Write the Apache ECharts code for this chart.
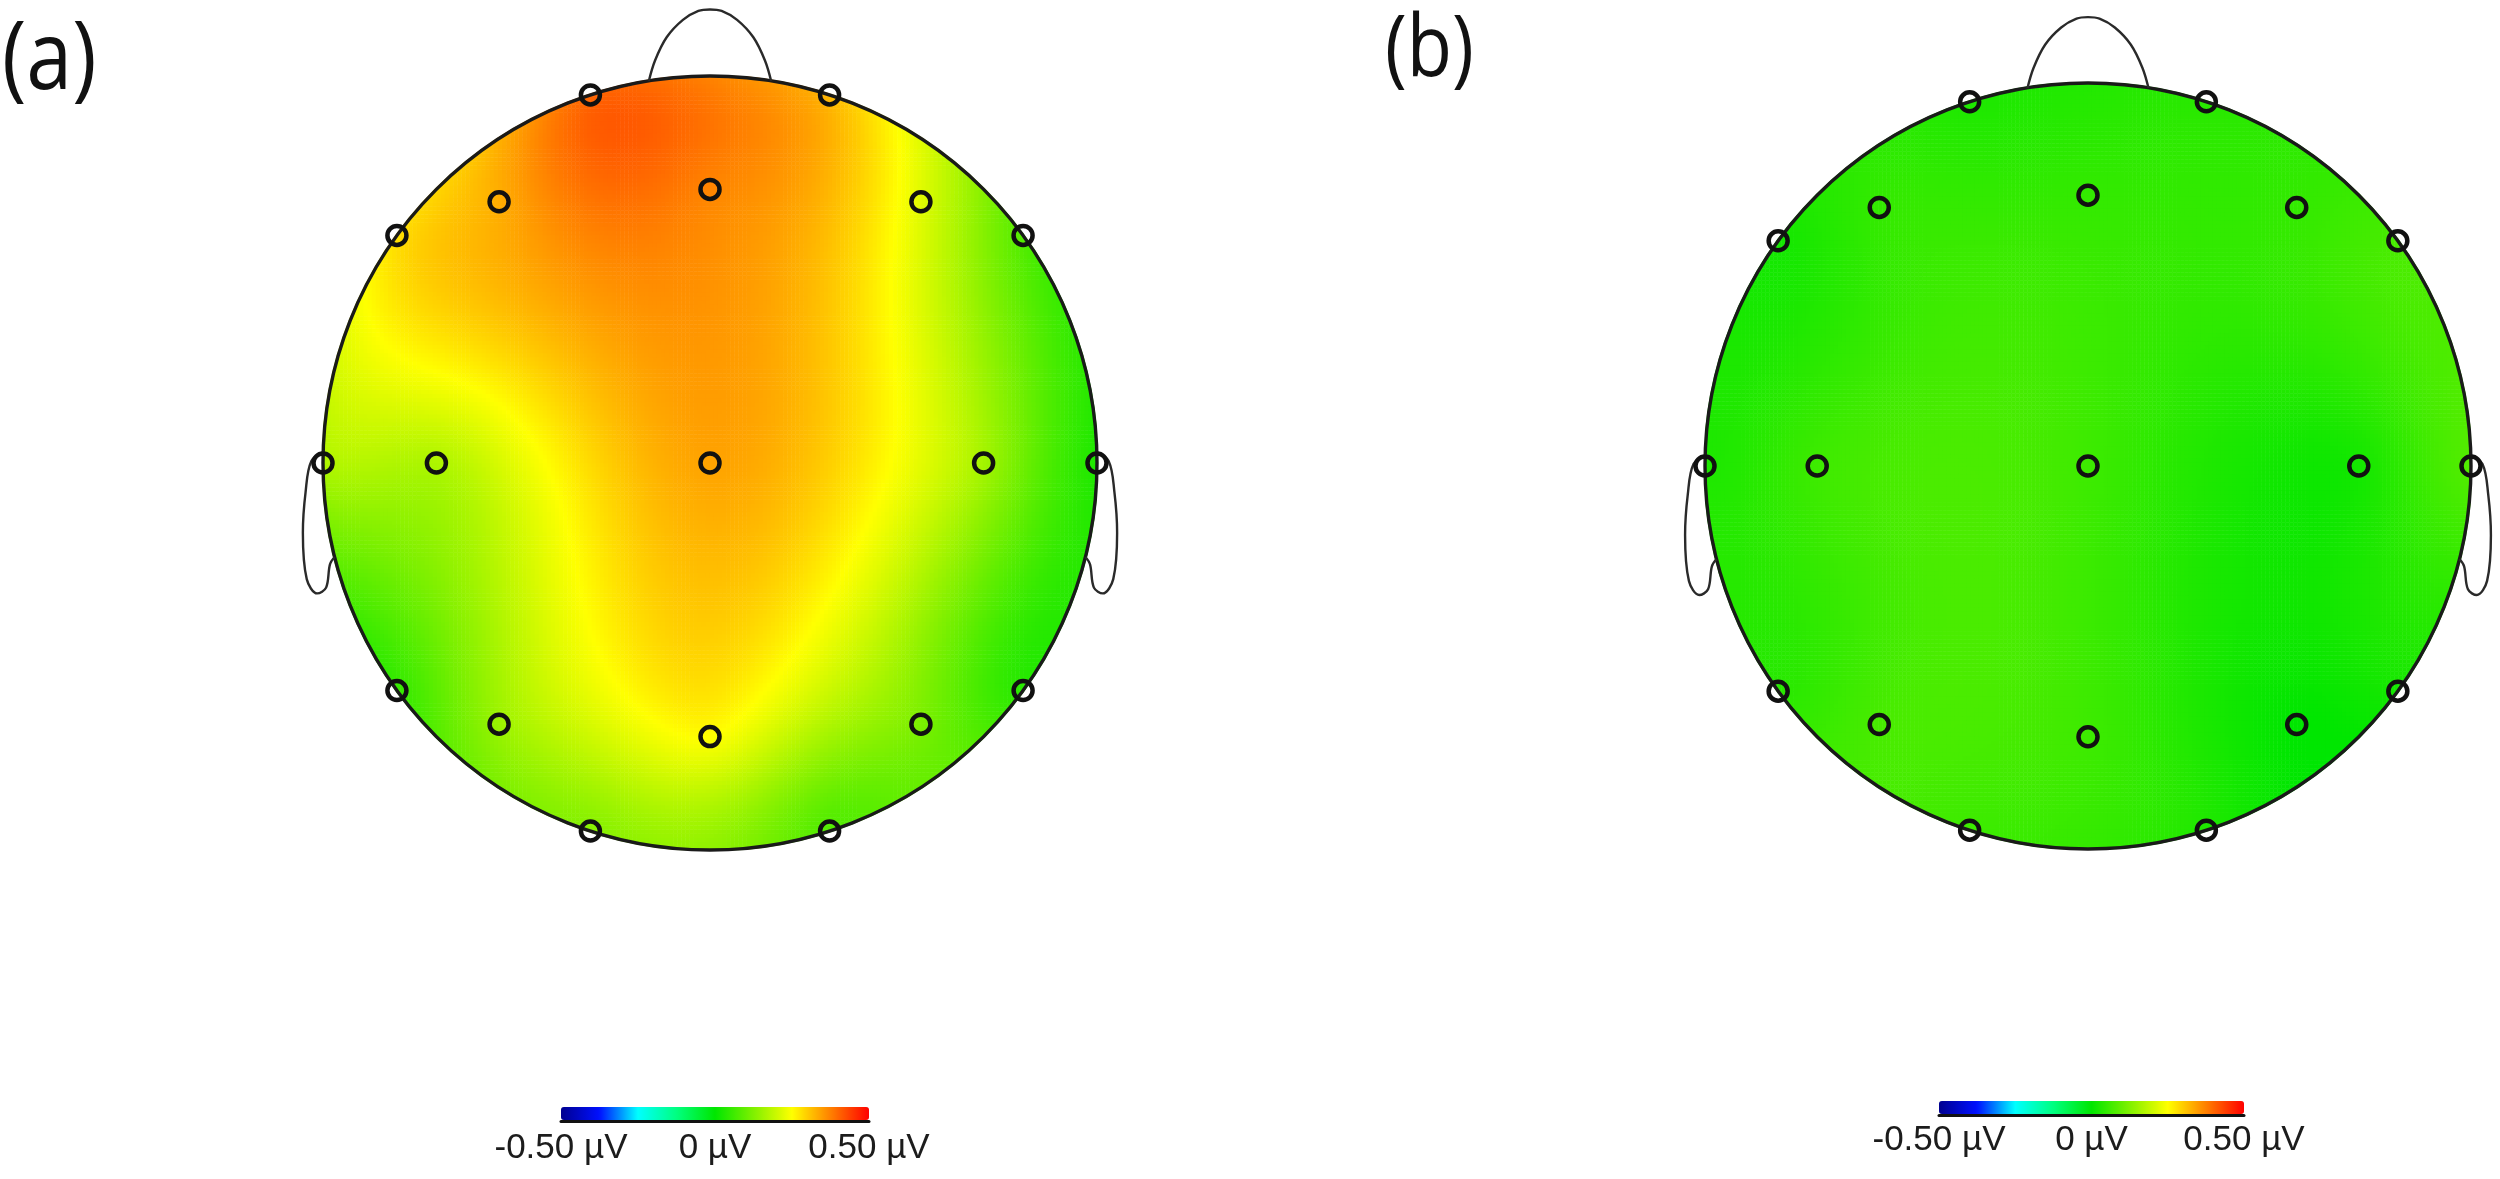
<!DOCTYPE html>
<html><head><meta charset="utf-8">
<script src="https://cdn.jsdelivr.net/npm/echarts@6/dist/echarts.min.js"></script>
<style>html,body{margin:0;padding:0;background:#fff}#c{width:2500px;height:1179px}</style>
</head><body><div id="c"></div>
<script>
// ---------------- DATA ----------------
const electrodeNames = ['Fp1','Fp2','F7','F3','Fz','F4','F8','T3','C3','Cz','C4','T4','T5','P3','Pz','P4','T6','O1','O2'];
// electrode positions on a unit head (x right, y toward nose)
const electrodeX = [-0.309, 0.309, -0.809, -0.545, 0, 0.545, 0.809, -1, -0.707, 0, 0.707, 1, -0.809, -0.545, 0, 0.545, 0.809, -0.309, 0.309];
const electrodeY = [0.951, 0.951, 0.588, 0.675, 0.707, 0.675, 0.588, 0, 0, 0, 0, 0, -0.588, -0.675, -0.707, -0.675, -0.588, -0.951, -0.951];
// amplitudes (µV)
const valuesA = [0.40, 0.32, 0.28, 0.33, 0.37, 0.22, 0.08, 0.17, 0.17, 0.34, 0.16, 0.03, 0.05, 0.15, 0.25, 0.12, 0.04, 0.13, 0.08];
const valuesB = [0.03, 0.04, 0.02, 0.05, 0.05, 0.05, 0.07, 0.03, 0.06, 0.06, 0.02, 0.08, 0.04, 0.07, 0.06, 0.00, 0.02, 0.06, 0.03];
const colorbarTicks = [-0.5, 0, 0.5];
const panelLabels = ['(a)', '(b)'];
const unit = 'µV';

// ---------------- STYLE / LAYOUT ----------------
const jet = ['#000090', '#0010ff', '#00ffff', '#00ff80', '#00e600', '#80f000', '#ffff00', '#ff8000', '#ff0000'];
const panels = [
  {cx: 710, cy: 463, r: 387, values: valuesA, label: panelLabels[0], lx: 2, ly: 62, lsize: 96,
   cb: {left: 561, top: 1107, width: 308, margin: 10}},
  {cx: 2088, cy: 466, r: 383, values: valuesB, label: panelLabels[1], lx: 1385, ly: 51, lsize: 86,
   cb: {left: 1939, top: 1101, width: 305, margin: 8}}
];
const N = 190;          // heat-map cells per side
const EXT = 1.19;       // overlay axis extent in head radii

// head decoration shapes (unit head)
const noseShape = [[-0.158,0.987],[-0.142,1.04],[-0.112,1.1],[-0.07,1.145],[-0.03,1.168],[0,1.172],[0.03,1.168],[0.07,1.145],[0.112,1.1],[0.142,1.04],[0.158,0.987]];
const earShape = [[-0.995,0.03],[-1.03,0.005],[-1.045,-0.075],[-1.052,-0.18],[-1.042,-0.3],[-1.015,-0.337],[-0.992,-0.322],[-0.982,-0.262],[-0.97,-0.243]];

// ---------------- biharmonic spline (surface rendering between electrodes) ----------------
function green(d){ return d > 0 ? d*d*(Math.log(d)-1) : 0; }
function solve(A, b){
  const n = b.length, M = A.map((row,i)=>row.concat([b[i]]));
  for (let k=0;k<n;k++){
    let p=k; for (let i=k+1;i<n;i++) if (Math.abs(M[i][k])>Math.abs(M[p][k])) p=i;
    const t=M[k]; M[k]=M[p]; M[p]=t;
    for (let i=k+1;i<n;i++){ const f=M[i][k]/M[k][k]; for (let j=k;j<=n;j++) M[i][j]-=f*M[k][j]; }
  }
  const x=new Array(n).fill(0);
  for (let i=n-1;i>=0;i--){ let s=M[i][n]; for (let j=i+1;j<n;j++) s-=M[i][j]*x[j]; x[i]=s/M[i][i]; }
  return x;
}
function surface(values){
  const n = values.length, A = [];
  for (let i=0;i<n;i++){ A.push([]); for (let j=0;j<n;j++) A[i].push(green(Math.hypot(electrodeX[i]-electrodeX[j], electrodeY[i]-electrodeY[j]))); }
  const w = solve(A, values.slice());
  const cells = [];
  const lim = 1 + 2.2/N;
  for (let i=0;i<N;i++){
    const x = -1 + (i+0.5)*2/N;
    for (let j=0;j<N;j++){
      const y = -1 + (j+0.5)*2/N;
      if (x*x+y*y > lim*lim) continue;
      let v = 0;
      for (let k=0;k<n;k++) v += w[k]*green(Math.hypot(x-electrodeX[k], y-electrodeY[k]));
      v = Math.max(-0.5, Math.min(0.5, v));
      cells.push([i, j, v]);
    }
  }
  return cells;
}

const cats = Array.from({length:N}, (_,i)=>i);
const grid = [], xAxis = [], yAxis = [], series = [], visualMap = [], graphic = [];

panels.forEach((p, pi) => {
  const g0 = grid.length;
  grid.push({left: p.cx-p.r, top: p.cy-p.r, width: 2*p.r, height: 2*p.r, containLabel:false, outerBoundsMode:'none'});
  grid.push({left: p.cx-EXT*p.r, top: p.cy-EXT*p.r, width: 2*EXT*p.r, height: 2*EXT*p.r, containLabel:false, outerBoundsMode:'none'});
  grid.push({left: p.cb.left, top: p.cb.top, width: p.cb.width, height: 14, containLabel:false, outerBoundsMode:'none'});
  xAxis.push({type:'category', data: cats, gridIndex: g0, show:false, boundaryGap:true});
  yAxis.push({type:'category', data: cats, gridIndex: g0, show:false, boundaryGap:true});
  xAxis.push({type:'value', min:-EXT, max:EXT, gridIndex: g0+1, show:false});
  yAxis.push({type:'value', min:-EXT, max:EXT, gridIndex: g0+1, show:false});
  xAxis.push({type:'value', min: colorbarTicks[0], max: colorbarTicks[2], interval: colorbarTicks[2]-colorbarTicks[1], gridIndex: g0+2,
    axisLine:{show:true, onZero:false, lineStyle:{color:'#111', width:3}}, axisTick:{show:false}, splitLine:{show:false},
    axisLabel:{show:true, margin: p.cb.margin, color:'#1c1c1c', fontFamily:'"Liberation Sans", Arial, sans-serif', fontSize:35, lineHeight:35,
      showMinLabel:true, showMaxLabel:true,
      formatter: v => (v === 0 ? '0' : v.toFixed(2)) + ' ' + unit}});
  yAxis.push({type:'value', gridIndex: g0+2, show:false});

  const heatIndex = series.length;
  series.push({type:'heatmap', xAxisIndex: g0, yAxisIndex: g0, data: surface(p.values), progressive: 0, silent:true,
    emphasis:{disabled:true}, itemStyle:{borderWidth:0}, z:2});
  series.push({type:'custom', xAxisIndex: g0+1, yAxisIndex: g0+1, data: [[0,0]], silent:true, clip:false, z:3,
    renderItem: (params, api) => {
      const c = api.coord([0,0]);
      const r = api.size([1,1])[0];
      return {type:'group', children:[
        {type:'circle', shape:{cx:c[0], cy:c[1], r:r+15}, style:{fill:'none', stroke:'#fff', lineWidth:27}},
        {type:'circle', shape:{cx:c[0], cy:c[1], r:r}, style:{fill:'none', stroke:'#1a1a1a', lineWidth:3.4}}
      ]};
    }});
  const deco = [noseShape, earShape, earShape.map(q=>[-q[0], q[1]])];
  deco.forEach(shape => series.push({type:'line', xAxisIndex: g0+1, yAxisIndex: g0+1, data: shape, smooth:0.35, symbol:'none',
    silent:true, clip:false, z:4, lineStyle:{color:'#2a2a2a', width:2.4}}));
  series.push({type:'scatter', xAxisIndex: g0+1, yAxisIndex: g0+1, silent:true, z:5,
    data: electrodeNames.map((n,i)=>[electrodeX[i], electrodeY[i]]),
    symbol:'circle', symbolSize:19, itemStyle:{color:'rgba(0,0,0,0)', borderColor:'#111', borderWidth:4.5, opacity:1}});

  visualMap.push({type:'continuous', min: colorbarTicks[0], max: colorbarTicks[2], seriesIndex: heatIndex, inRange:{color: jet},
    orient:'horizontal', left: p.cb.left, top: p.cb.top, itemWidth: 13, itemHeight: p.cb.width, calculable:false,
    hoverLink:false, text:null, padding:0, show:true});

  graphic.push({type:'text', x: p.lx, y: p.ly, scaleX: 0.86, silent:true,
    style:{text: p.label, fontSize: p.lsize, fontWeight: 500, fontFamily:'"Open Sans", "Noto Sans", sans-serif', fill:'#111', align:'left', verticalAlign:'middle'}});
});

const chart = echarts.init(document.getElementById('c'), null, {renderer:'canvas'});
chart.setOption({animation:false, backgroundColor:'#fff', grid, xAxis, yAxis, series, visualMap, graphic});
</script></body></html>
